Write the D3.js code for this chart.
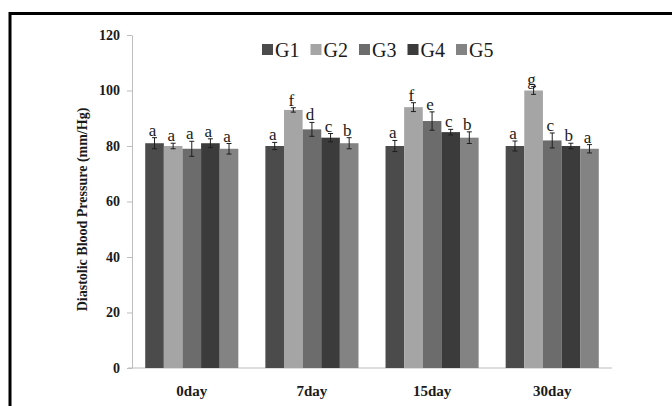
<!DOCTYPE html>
<html>
<head>
<meta charset="utf-8">
<script src="https://cdn.jsdelivr.net/npm/d3@7"></script>
<style>
  body { margin: 0; background: #fff; }
  svg { display: block; font-family: "Liberation Serif", "Times New Roman", serif; }
</style>
</head>
<body>
<svg id="chart" width="672" height="406"></svg>
<script>
const days = ["0day", "7day", "15day", "30day"];
const groups = ["G1", "G2", "G3", "G4", "G5"];
const colors = ["#4b4b4b", "#a5a5a5", "#6c6c6c", "#3b3b3b", "#838383"];
const yTicks = [0, 20, 40, 60, 80, 100, 120];

// mean per group, one value per day
const means = [
  [81, 80, 80, 80],    // G1
  [80, 93, 94, 100],   // G2
  [79, 86, 89, 82],    // G3
  [81, 83, 85, 80],    // G4
  [79, 81, 83, 79]     // G5
];
const errors = [
  [2, 1.3, 2, 1.8],
  [1, 0.8, 1.6, 1.4],
  [2.7, 2.5, 3.3, 2.7],
  [1.6, 1.5, 1, 1],
  [1.9, 2, 2.1, 1.5]
];
const letters = [
  ["a", "a", "a", "a"],
  ["a", "f", "f", "g"],
  ["a", "d", "e", "c"],
  ["a", "c", "c", "b"],
  ["a", "b", "b", "a"]
];

const svg = d3.select("#chart");

// outer frame
svg.append("rect")
  .attr("x", 10).attr("y", 13.5)
  .attr("width", 700).attr("height", 500)
  .attr("fill", "none").attr("stroke", "#000").attr("stroke-width", 3);

const x0 = d3.scaleBand()
  .domain(days)
  .range([132, 612])
  .paddingInner(0.225)
  .paddingOuter(0.11);

const x1 = d3.scaleBand()
  .domain(groups)
  .range([0, x0.bandwidth()]);

const y = d3.scaleLinear().domain([0, 120]).range([368, 35]);

// y axis
const yAxis = svg.append("g")
  .attr("transform", "translate(132,0)")
  .call(d3.axisLeft(y).tickValues(yTicks).tickSize(5).tickSizeOuter(0).tickPadding(7));
yAxis.selectAll("path, line").attr("stroke", "#bdbdbd");
yAxis.selectAll("text")
  .attr("fill", "#1a1a1a")
  .style("font-family", "Liberation Serif, serif")
  .style("font-size", "14px")
  .style("font-weight", "bold");

// x axis line
svg.append("line")
  .attr("x1", 128).attr("x2", 612)
  .attr("y1", y(0)).attr("y2", y(0))
  .attr("stroke", "#bdbdbd");

// flatten to rows
const rows = [];
groups.forEach((g, gi) => {
  days.forEach((d, di) => {
    rows.push({ g, gi, d, v: means[gi][di], e: errors[gi][di], l: letters[gi][di] });
  });
});

const bx = r => x0(r.d) + x1(r.g);

svg.append("g").selectAll("rect")
  .data(rows)
  .join("rect")
  .attr("x", bx)
  .attr("y", r => y(r.v))
  .attr("width", x1.bandwidth())
  .attr("height", r => y(0) - y(r.v))
  .attr("fill", r => colors[r.gi]);

// error bars
const eb = svg.append("g").attr("stroke", "#1e1e1e").attr("stroke-width", 1);
rows.forEach(r => {
  const cx = bx(r) + x1.bandwidth() / 2;
  eb.append("line").attr("x1", cx).attr("x2", cx)
    .attr("y1", y(r.v + r.e)).attr("y2", y(r.v - r.e));
  [r.v + r.e, r.v - r.e].forEach(v => {
    eb.append("line").attr("x1", cx - 2.5).attr("x2", cx + 2.5)
      .attr("y1", y(v)).attr("y2", y(v));
  });
});

// significance letters
svg.append("g").selectAll("text")
  .data(rows)
  .join("text")
  .attr("x", r => bx(r) + x1.bandwidth() / 2 - 2)
  .attr("y", r => y(r.v + r.e) - 2)
  .attr("text-anchor", "middle")
  .style("font-size", "17px")
  .attr("fill", "#1a1a1a")
  .text(r => r.l);

// category labels
svg.append("g").selectAll("text")
  .data(days)
  .join("text")
  .attr("x", d => x0(d) + x0.bandwidth() / 2)
  .attr("y", 396)
  .attr("text-anchor", "middle")
  .style("font-size", "15px")
  .style("font-weight", "bold")
  .attr("fill", "#1a1a1a")
  .text(d => d);

// y axis title
svg.append("text")
  .attr("transform", `translate(87,${(y(0) + y(120)) / 2 + 8}) rotate(-90)`)
  .attr("text-anchor", "middle")
  .style("font-size", "14px")
  .style("font-weight", "bold")
  .attr("fill", "#1a1a1a")
  .text("Diastolic Blood Pressure (mm/Hg)");

// legend
const legend = svg.append("g").attr("transform", "translate(262,44)");
groups.forEach((g, i) => {
  const item = legend.append("g").attr("transform", `translate(${i * 48.5},0)`);
  item.append("rect").attr("width", 11).attr("height", 11).attr("fill", colors[i]);
  item.append("text")
    .attr("x", 13).attr("y", 12.5)
    .style("font-size", "20px")
    .attr("fill", "#1a1a1a")
    .text(g);
});
</script>
</body>
</html>
